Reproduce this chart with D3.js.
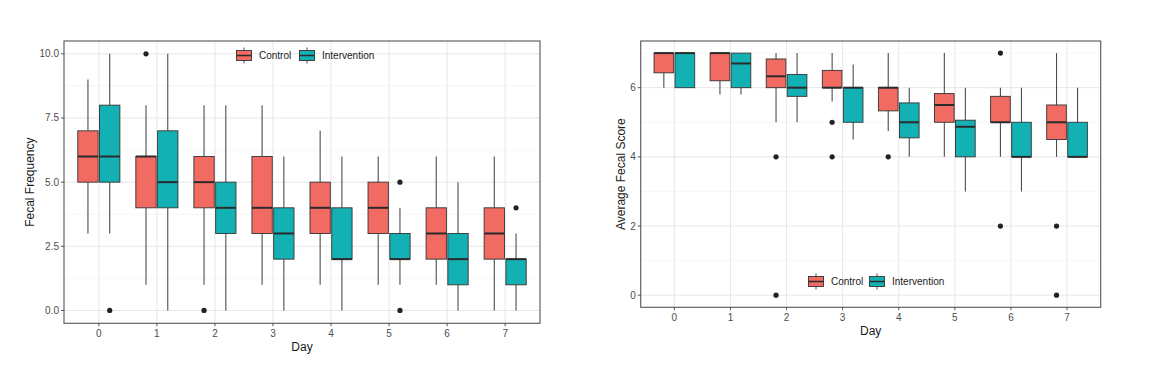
<!doctype html>
<html>
  <head>
    <script src="https://cdn.jsdelivr.net/npm/d3@7/dist/d3.min.js"></script>
    <style>
      body, html {
        margin: 0;
        background: #fff;
      }
      svg {
        font-family: "Liberation Sans", Arial, sans-serif;
      }
      .grid-major { stroke: #e6e6e6; stroke-width: 1; }
      .grid-minor { stroke: #f3f3f3; stroke-width: 0.7; }
      .tick-lab { fill: #4d4d4d; font-size: 10px; }
      .axis-title { fill: #1a1a1a; font-size: 12px; }
      .legend-lab { fill: #1a1a1a; font-size: 10px; }
    </style>
  </head>
  <body>
    <svg width="1156" height="377"></svg>
    <script>
      // categories
      var days = ["0", "1", "2", "3", "4", "5", "6", "7"];
      var groups = ["Control", "Intervention"];
      var colors = ["#f26b63", "#14b1b4"];

      // Fecal frequency: [min, q1, median, q3, max] per day
      var freqControl = [
        [3, 5, 6, 7, 9], [1, 4, 6, 6, 8], [1, 4, 5, 6, 8], [1, 3, 4, 6, 8],
        [1, 3, 4, 5, 7], [1, 3, 4, 5, 6], [1, 2, 3, 4, 6], [0, 2, 3, 4, 6]
      ];
      var freqIntervention = [
        [3, 5, 6, 8, 10], [0, 4, 5, 7, 10], [0, 3, 4, 5, 8], [0, 2, 3, 4, 6],
        [0, 2, 2, 4, 6], [1, 2, 2, 3, 4], [0, 1, 2, 3, 5], [0, 1, 2, 2, 3]
      ];
      var freqOutliers = [
        {day: "0", group: "Intervention", value: 0},
        {day: "1", group: "Control", value: 10},
        {day: "2", group: "Control", value: 0},
        {day: "5", group: "Intervention", value: 5},
        {day: "5", group: "Intervention", value: 0},
        {day: "7", group: "Intervention", value: 4}
      ];
      var freqTicks = [0, 2.5, 5, 7.5, 10];

      // Average fecal score: [min, q1, median, q3, max] per day
      var scoreControl = [
        [6, 6.43, 7, 7, 7], [5.8, 6.2, 7, 7, 7], [5, 6, 6.33, 6.83, 7], [5.6, 6, 6, 6.5, 7],
        [4.75, 5.33, 6, 6, 7], [4, 5, 5.5, 5.83, 7], [4, 5, 5, 5.75, 6], [4, 4.5, 5, 5.5, 7]
      ];
      var scoreIntervention = [
        [6, 6, 7, 7, 7], [5.8, 6, 6.7, 7, 7], [5, 5.75, 6, 6.38, 7], [4.5, 5, 6, 6, 6.67],
        [4, 4.55, 5, 5.56, 6], [3, 4, 4.87, 5.06, 6], [3, 4, 4, 5, 6], [4, 4, 4, 5, 6]
      ];
      var scoreOutliers = [
        {day: "2", group: "Control", value: 4},
        {day: "2", group: "Control", value: 0},
        {day: "3", group: "Control", value: 5},
        {day: "3", group: "Control", value: 4},
        {day: "4", group: "Control", value: 4},
        {day: "6", group: "Control", value: 7},
        {day: "6", group: "Control", value: 2},
        {day: "7", group: "Control", value: 2},
        {day: "7", group: "Control", value: 0}
      ];
      var scoreTicks = [0, 2, 4, 6];

      var svg = d3.select("svg");

      function drawPanel(opt) {
        var g = svg.append("g");
        var x = d3.scaleLinear().domain([-0.6, days.length - 0.4]).range([opt.left, opt.right]);
        var y = d3.scaleLinear().domain(opt.yDomain).range([opt.bottom, opt.top]);
        var dodge = d3.scaleBand().domain(groups).range([-0.375, 0.375]);
        var boxW = (x(0.35) - x(0));

        // minor grid
        var minorY = d3.range(opt.minorStart, opt.yDomain[1], opt.step);
        g.selectAll("line.minor-y").data(minorY).enter().append("line")
          .attr("class", "grid-minor")
          .attr("x1", opt.left).attr("x2", opt.right)
          .attr("y1", d => y(d)).attr("y2", d => y(d));

        // major grid
        g.selectAll("line.major-y").data(opt.ticks).enter().append("line")
          .attr("class", "grid-major")
          .attr("x1", opt.left).attr("x2", opt.right)
          .attr("y1", d => y(d)).attr("y2", d => y(d));
        g.selectAll("line.major-x").data(days).enter().append("line")
          .attr("class", "grid-major")
          .attr("x1", (d, i) => x(i)).attr("x2", (d, i) => x(i))
          .attr("y1", opt.top).attr("y2", opt.bottom);

        // boxes
        [opt.control, opt.intervention].forEach(function (stats, gi) {
          var grp = groups[gi];
          var off = dodge(grp) + dodge.bandwidth() / 2;
          var bg = g.append("g");
          stats.forEach(function (s, i) {
            var cx = x(i + off);
            bg.append("line")
              .attr("x1", cx).attr("x2", cx)
              .attr("y1", y(s[3])).attr("y2", y(s[4]))
              .attr("stroke", "#4d4d4d").attr("stroke-width", 1.1);
            bg.append("line")
              .attr("x1", cx).attr("x2", cx)
              .attr("y1", y(s[0])).attr("y2", y(s[1]))
              .attr("stroke", "#4d4d4d").attr("stroke-width", 1.1);
            bg.append("rect")
              .attr("x", cx - boxW / 2).attr("width", boxW)
              .attr("y", y(s[3])).attr("height", Math.max(0, y(s[1]) - y(s[3])))
              .attr("fill", colors[gi])
              .attr("stroke", "#333").attr("stroke-width", 0.9);
            bg.append("line")
              .attr("x1", cx - boxW / 2).attr("x2", cx + boxW / 2)
              .attr("y1", y(s[2])).attr("y2", y(s[2]))
              .attr("stroke", "#2b2b2b").attr("stroke-width", 2);
          });
        });

        // outliers
        g.selectAll("circle.out").data(opt.outliers).enter().append("circle")
          .attr("cx", d => x(days.indexOf(d.day) + dodge(d.group) + dodge.bandwidth() / 2))
          .attr("cy", d => y(d.value))
          .attr("r", 2.6)
          .attr("fill", "#222");

        // panel border
        g.append("rect")
          .attr("x", opt.left).attr("y", opt.top)
          .attr("width", opt.right - opt.left).attr("height", opt.bottom - opt.top)
          .attr("fill", "none").attr("stroke", "#555").attr("stroke-width", 1.1);

        // y axis ticks + labels
        g.selectAll("line.ytick").data(opt.ticks).enter().append("line")
          .attr("x1", opt.left - 3).attr("x2", opt.left)
          .attr("y1", d => y(d)).attr("y2", d => y(d))
          .attr("stroke", "#555");
        g.selectAll("text.ylab").data(opt.ticks).enter().append("text")
          .attr("class", "tick-lab")
          .attr("x", opt.left - 5).attr("y", d => y(d))
          .attr("dy", "0.35em").attr("text-anchor", "end")
          .text(d => opt.fmt(d));

        // x axis ticks + labels
        g.selectAll("line.xtick").data(days).enter().append("line")
          .attr("x1", (d, i) => x(i)).attr("x2", (d, i) => x(i))
          .attr("y1", opt.bottom).attr("y2", opt.bottom + 3)
          .attr("stroke", "#555");
        g.selectAll("text.xlab").data(days).enter().append("text")
          .attr("class", "tick-lab")
          .attr("x", (d, i) => x(i)).attr("y", opt.bottom + 14)
          .attr("text-anchor", "middle")
          .text(d => d);

        // titles
        g.append("text").attr("class", "axis-title")
          .attr("x", (opt.left + opt.right) / 2).attr("y", opt.bottom + 28)
          .attr("text-anchor", "middle").text("Day");
        g.append("text").attr("class", "axis-title")
          .attr("transform", "translate(" + opt.yTitleX + "," + ((opt.top + opt.bottom) / 2) + ") rotate(-90)")
          .attr("text-anchor", "middle").text(opt.yTitle);

        // legend
        var lg = g.append("g").attr("transform", "translate(" + opt.legendX + "," + opt.legendY + ")");
        var items = [{x: 0, lab: "Control"}, {x: opt.legendGap, lab: "Intervention"}];
        items.forEach(function (it, i) {
          var k = lg.append("g").attr("transform", "translate(" + it.x + ",0)");
          k.append("line").attr("x1", 8).attr("x2", 8).attr("y1", -8).attr("y2", 8)
            .attr("stroke", "#4d4d4d").attr("stroke-width", 1);
          k.append("rect").attr("x", 0.5).attr("y", -5).attr("width", 15).attr("height", 10)
            .attr("fill", colors[i]).attr("stroke", "#333").attr("stroke-width", 0.9);
          k.append("line").attr("x1", 0.5).attr("x2", 15.5).attr("y1", 0).attr("y2", 0)
            .attr("stroke", "#2b2b2b").attr("stroke-width", 1.5);
          k.append("text").attr("class", "legend-lab")
            .attr("x", 23).attr("y", 0).attr("dy", "0.35em").text(it.lab);
        });
      }

      drawPanel({
        left: 64, right: 540, top: 41, bottom: 323.3,
        yDomain: [-0.5, 10.5], ticks: freqTicks, step: 2.5, minorStart: 1.25,
        fmt: d3.format(".1f"),
        control: freqControl, intervention: freqIntervention, outliers: freqOutliers,
        yTitle: "Fecal Frequency", yTitleX: 34,
        legendX: 236, legendY: 55.5, legendGap: 63
      });

      drawPanel({
        left: 640.7, right: 1100.7, top: 41, bottom: 307.3,
        yDomain: [-0.35, 7.35], ticks: scoreTicks, step: 2, minorStart: 1,
        fmt: d3.format("d"),
        control: scoreControl, intervention: scoreIntervention, outliers: scoreOutliers,
        yTitle: "Average Fecal Score", yTitleX: 625,
        legendX: 808, legendY: 281.5, legendGap: 61
      });
    </script>
  </body>
</html>
